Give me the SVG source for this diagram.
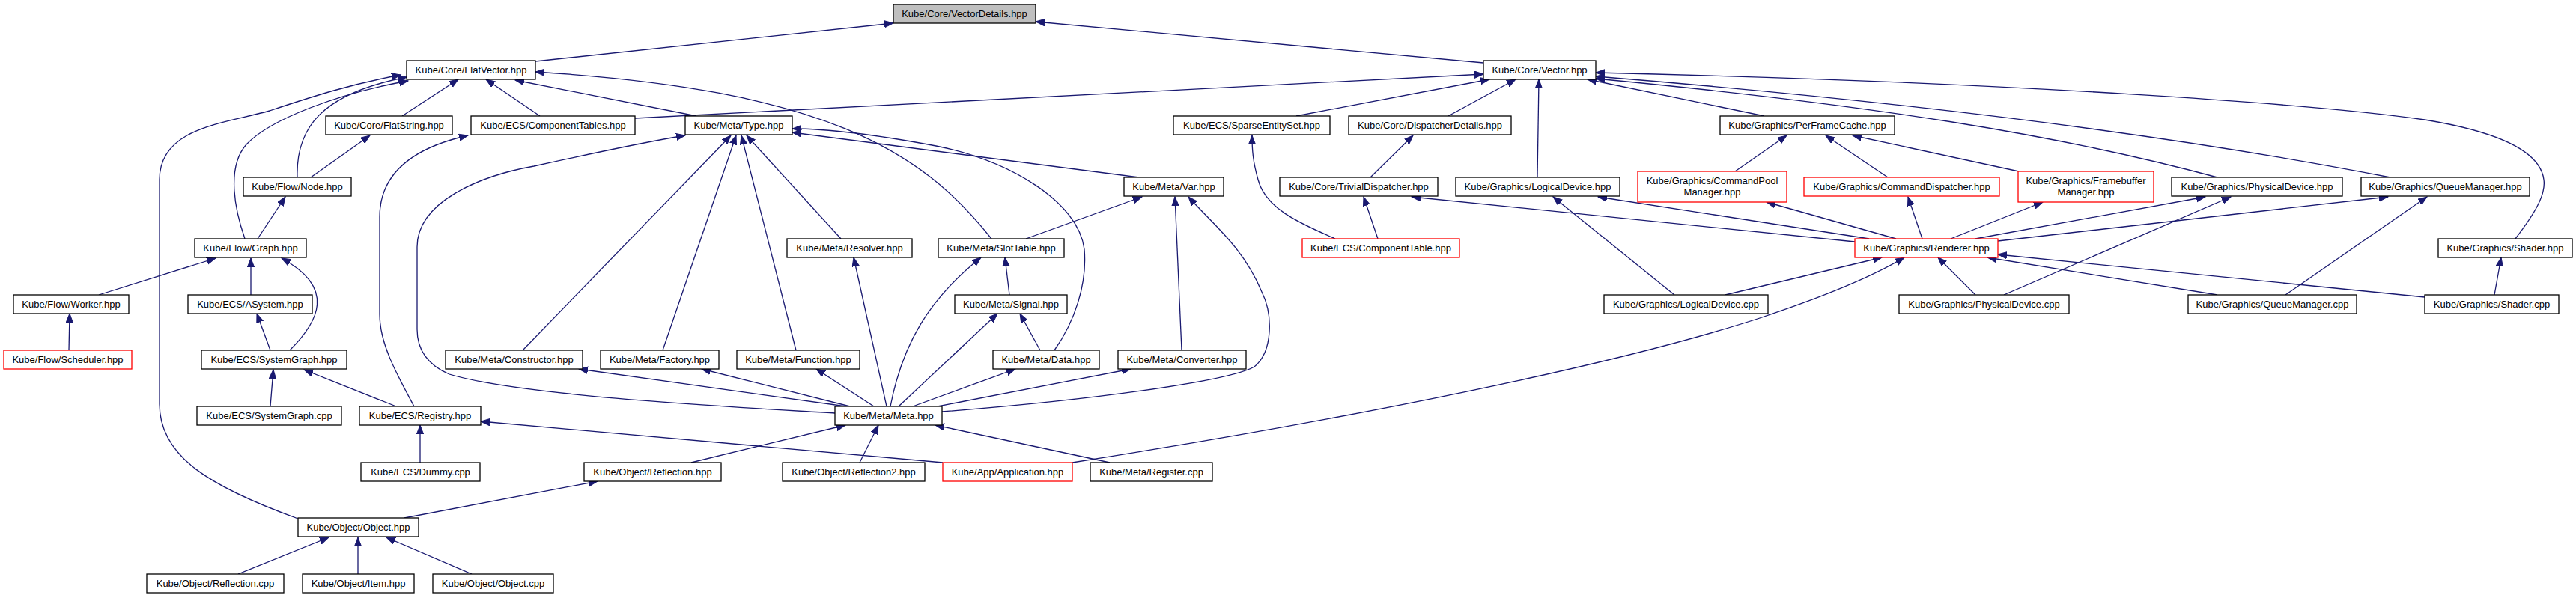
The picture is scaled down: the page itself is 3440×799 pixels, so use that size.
<svg xmlns="http://www.w3.org/2000/svg" width="3440" height="799" viewBox="0 0 3440 799">
<style>
rect{fill:#fff;stroke:#000;stroke-width:1.3}
rect.r{stroke:#f00}
rect.g{fill:#bfbfbf}
text{font-family:"Liberation Sans",Arial,sans-serif;font-size:13px;fill:#000;text-anchor:middle}
#edges path{fill:none;stroke:#191970;stroke-width:1.3;marker-end:url(#ah)}
</style>
<defs>
<marker id="ah" markerUnits="userSpaceOnUse" markerWidth="14" markerHeight="12" refX="12" refY="5" orient="auto">
<path d="M0,0.4 L12,5 L0,9.6 z" fill="#191970" stroke="#191970" stroke-width="1"/>
</marker>
</defs>
<rect x="0" y="0" width="3440" height="799" style="fill:#fff;stroke:none"/>
<g id="edges">
<path d="M715,82 L1193,31"/>
<path d="M1981,84 L1383,29"/>
<path d="M537,155 L612,106"/>
<path d="M721,155 L649,106"/>
<path d="M930,155 L688,107"/>
<path d="M1324,319 C1230,200 1100,120 715,96"/>
<path d="M397,237 C395,170 430,125 543,103"/>
<path d="M327,319 C310,270 305,220 329,193 C360,160 450,125 545,108"/>
<path d="M398,693 C280,650 213,610 213,540 L213,240 C213,170 300,165 360,148 C420,128 470,112 535,100"/>
<path d="M344,319 L381,263"/>
<path d="M415,237 L494,181"/>
<path d="M132,394 L288,345"/>
<path d="M335,394 L335,345"/>
<path d="M387,468 C425,430 450,385 376,345"/>
<path d="M92,468 L93,419"/>
<path d="M361,468 L343,419"/>
<path d="M361,543 L365,494"/>
<path d="M529,543 L406,494"/>
<path d="M561,618 L561,568"/>
<path d="M553,543 C530,500 507,460 507,420 L507,290 C507,240 540,200 625,181"/>
<path d="M698,468 L976,181"/>
<path d="M885,468 L983,181"/>
<path d="M1063,468 L990,181"/>
<path d="M1123,319 L997,181"/>
<path d="M1115,552 C1000,545 700,530 600,500 C565,485 557,460 557,440 L557,330 C557,270 640,235 713,222 C790,205 860,190 915,181"/>
<path d="M1184,543 L1140,344"/>
<path d="M1408,468 C1435,430 1452,380 1448,333 C1440,270 1350,215 1250,195 C1170,180 1100,172 1058,172"/>
<path d="M1521,237 L1058,177"/>
<path d="M1370,319 L1525,263"/>
<path d="M1578,468 L1569,263"/>
<path d="M1258,550 C1450,535 1640,510 1675,490 C1700,470 1700,420 1685,390 C1660,330 1620,300 1587,263"/>
<path d="M1189,543 C1205,460 1240,400 1310,344"/>
<path d="M1348,394 L1342,344"/>
<path d="M1200,543 L1332,419"/>
<path d="M1389,468 L1362,419"/>
<path d="M1135,543 L937,493"/>
<path d="M1167,543 L1090,493"/>
<path d="M1219,543 L1356,493"/>
<path d="M1252,543 L1510,493"/>
<path d="M1130,543 L773,493"/>
<path d="M923,618 L1129,568"/>
<path d="M1148,618 L1173,568"/>
<path d="M1482,618 L1249,568"/>
<path d="M1259,618 L642,563"/>
<path d="M1432,618 C1800,560 2150,490 2350,425 C2440,395 2500,370 2543,344"/>
<path d="M848,158 L1981,99"/>
<path d="M1731,155 L1989,106"/>
<path d="M1934,155 L2024,106"/>
<path d="M2053,237 L2055,106"/>
<path d="M2356,155 L2120,106"/>
<path d="M3359,319 C3385,285 3400,260 3397,240 C3392,200 3330,175 3238,160 C3100,140 2700,110 2131,97"/>
<path d="M3192,237 C2950,190 2600,140 2131,102"/>
<path d="M2961,237 C2750,180 2500,140 2131,105"/>
<path d="M1830,237 L1887,181"/>
<path d="M1840,319 L1821,263"/>
<path d="M2477,323 L1885,263"/>
<path d="M1783,319 C1740,300 1690,280 1680,240 C1673,215 1672,200 1672,181"/>
<path d="M2236,394 L2074,263"/>
<path d="M2496,319 L2134,263"/>
<path d="M2532,319 L2359,270"/>
<path d="M2317,229 L2386,181"/>
<path d="M2521,237 L2438,181"/>
<path d="M2696,229 L2474,181"/>
<path d="M2567,319 L2548,263"/>
<path d="M2605,319 L2728,270"/>
<path d="M2638,319 L2945,263"/>
<path d="M2668,322 L3189,263"/>
<path d="M2676,394 L2979,263"/>
<path d="M3052,394 L3241,263"/>
<path d="M3331,394 L3340,344"/>
<path d="M2304,394 L2513,344"/>
<path d="M2638,394 L2588,344"/>
<path d="M2961,394 L2654,344"/>
<path d="M3238,397 L2668,340"/>
<path d="M540,692 L798,643"/>
<path d="M318,767 L439,718"/>
<path d="M478,767 L478,718"/>
<path d="M630,767 L516,718"/>
</g>
<g id="n_vd"><rect class="g" x="1193" y="6" width="190" height="25"/><text x="1288" y="23">Kube/Core/VectorDetails.hpp</text></g>
<g id="n_fv"><rect x="543" y="81" width="172" height="25"/><text x="629" y="98">Kube/Core/FlatVector.hpp</text></g>
<g id="n_vec"><rect x="1981" y="81" width="150" height="25"/><text x="2056" y="98">Kube/Core/Vector.hpp</text></g>
<g id="n_fs"><rect x="435" y="155" width="169" height="25"/><text x="519.5" y="172">Kube/Core/FlatString.hpp</text></g>
<g id="n_cts"><rect x="629" y="155" width="219" height="25"/><text x="738.5" y="172">Kube/ECS/ComponentTables.hpp</text></g>
<g id="n_type"><rect x="915" y="155" width="143" height="25"/><text x="986.5" y="172">Kube/Meta/Type.hpp</text></g>
<g id="n_ses"><rect x="1567" y="155" width="209" height="25"/><text x="1671.5" y="172">Kube/ECS/SparseEntitySet.hpp</text></g>
<g id="n_dd"><rect x="1801" y="155" width="217" height="25"/><text x="1909.5" y="172">Kube/Core/DispatcherDetails.hpp</text></g>
<g id="n_pfc"><rect x="2297" y="155" width="233" height="25"/><text x="2413.5" y="172">Kube/Graphics/PerFrameCache.hpp</text></g>
<g id="n_node"><rect x="325" y="237" width="144" height="25"/><text x="397" y="254">Kube/Flow/Node.hpp</text></g>
<g id="n_var"><rect x="1501" y="237" width="133" height="25"/><text x="1567.5" y="254">Kube/Meta/Var.hpp</text></g>
<g id="n_td"><rect x="1709" y="237" width="211" height="25"/><text x="1814.5" y="254">Kube/Core/TrivialDispatcher.hpp</text></g>
<g id="n_ldh"><rect x="1944" y="237" width="219" height="25"/><text x="2053.5" y="254">Kube/Graphics/LogicalDevice.hpp</text></g>
<g id="n_cpm"><rect class="r" x="2187" y="229" width="199" height="41"/><text x="2286.5" y="246">Kube/Graphics/CommandPool</text><text x="2286.5" y="261">Manager.hpp</text></g>
<g id="n_cd"><rect class="r" x="2409" y="237" width="261" height="25"/><text x="2539.5" y="254">Kube/Graphics/CommandDispatcher.hpp</text></g>
<g id="n_fbm"><rect class="r" x="2695" y="229" width="181" height="41"/><text x="2785.5" y="246">Kube/Graphics/Framebuffer</text><text x="2785.5" y="261">Manager.hpp</text></g>
<g id="n_pdh"><rect x="2900" y="237" width="228" height="25"/><text x="3014" y="254">Kube/Graphics/PhysicalDevice.hpp</text></g>
<g id="n_qmh"><rect x="3153" y="237" width="225" height="25"/><text x="3265.5" y="254">Kube/Graphics/QueueManager.hpp</text></g>
<g id="n_graph"><rect x="260" y="319" width="149" height="25"/><text x="334.5" y="336">Kube/Flow/Graph.hpp</text></g>
<g id="n_res"><rect x="1051" y="319" width="167" height="25"/><text x="1134.5" y="336">Kube/Meta/Resolver.hpp</text></g>
<g id="n_slot"><rect x="1253" y="319" width="168" height="25"/><text x="1337" y="336">Kube/Meta/SlotTable.hpp</text></g>
<g id="n_ctab"><rect class="r" x="1739" y="319" width="210" height="25"/><text x="1844" y="336">Kube/ECS/ComponentTable.hpp</text></g>
<g id="n_rend"><rect class="r" x="2477" y="319" width="191" height="25"/><text x="2572.5" y="336">Kube/Graphics/Renderer.hpp</text></g>
<g id="n_shh"><rect x="3256" y="319" width="179" height="25"/><text x="3345.5" y="336">Kube/Graphics/Shader.hpp</text></g>
<g id="n_worker"><rect x="18" y="394" width="154" height="25"/><text x="95" y="411">Kube/Flow/Worker.hpp</text></g>
<g id="n_asys"><rect x="251" y="394" width="166" height="25"/><text x="334" y="411">Kube/ECS/ASystem.hpp</text></g>
<g id="n_sig"><rect x="1275" y="394" width="150" height="25"/><text x="1350" y="411">Kube/Meta/Signal.hpp</text></g>
<g id="n_ldc"><rect x="2142" y="394" width="219" height="25"/><text x="2251.5" y="411">Kube/Graphics/LogicalDevice.cpp</text></g>
<g id="n_pdc"><rect x="2536" y="394" width="227" height="25"/><text x="2649.5" y="411">Kube/Graphics/PhysicalDevice.cpp</text></g>
<g id="n_qmc"><rect x="2922" y="394" width="225" height="25"/><text x="3034.5" y="411">Kube/Graphics/QueueManager.cpp</text></g>
<g id="n_shc"><rect x="3238" y="394" width="179" height="25"/><text x="3327.5" y="411">Kube/Graphics/Shader.cpp</text></g>
<g id="n_sched"><rect class="r" x="5" y="468" width="171" height="25"/><text x="90.5" y="485">Kube/Flow/Scheduler.hpp</text></g>
<g id="n_sgh"><rect x="269" y="468" width="194" height="25"/><text x="366" y="485">Kube/ECS/SystemGraph.hpp</text></g>
<g id="n_ctor"><rect x="595" y="468" width="183" height="25"/><text x="686.5" y="485">Kube/Meta/Constructor.hpp</text></g>
<g id="n_fac"><rect x="802" y="468" width="158" height="25"/><text x="881" y="485">Kube/Meta/Factory.hpp</text></g>
<g id="n_fun"><rect x="984" y="468" width="164" height="25"/><text x="1066" y="485">Kube/Meta/Function.hpp</text></g>
<g id="n_data"><rect x="1326" y="468" width="142" height="25"/><text x="1397" y="485">Kube/Meta/Data.hpp</text></g>
<g id="n_conv"><rect x="1493" y="468" width="171" height="25"/><text x="1578.5" y="485">Kube/Meta/Converter.hpp</text></g>
<g id="n_sgc"><rect x="263" y="543" width="193" height="25"/><text x="359.5" y="560">Kube/ECS/SystemGraph.cpp</text></g>
<g id="n_reg"><rect x="480" y="543" width="162" height="25"/><text x="561" y="560">Kube/ECS/Registry.hpp</text></g>
<g id="n_meta"><rect x="1115" y="543" width="143" height="25"/><text x="1186.5" y="560">Kube/Meta/Meta.hpp</text></g>
<g id="n_dummy"><rect x="482" y="618" width="159" height="25"/><text x="561.5" y="635">Kube/ECS/Dummy.cpp</text></g>
<g id="n_refh"><rect x="780" y="618" width="183" height="25"/><text x="871.5" y="635">Kube/Object/Reflection.hpp</text></g>
<g id="n_ref2"><rect x="1045" y="618" width="190" height="25"/><text x="1140" y="635">Kube/Object/Reflection2.hpp</text></g>
<g id="n_app"><rect class="r" x="1259" y="618" width="173" height="25"/><text x="1345.5" y="635">Kube/App/Application.hpp</text></g>
<g id="n_regc"><rect x="1456" y="618" width="163" height="25"/><text x="1537.5" y="635">Kube/Meta/Register.cpp</text></g>
<g id="n_obj"><rect x="398" y="692" width="161" height="25"/><text x="478.5" y="709">Kube/Object/Object.hpp</text></g>
<g id="n_refc"><rect x="196" y="767" width="183" height="25"/><text x="287.5" y="784">Kube/Object/Reflection.cpp</text></g>
<g id="n_item"><rect x="404" y="767" width="149" height="25"/><text x="478.5" y="784">Kube/Object/Item.hpp</text></g>
<g id="n_objc"><rect x="578" y="767" width="161" height="25"/><text x="658.5" y="784">Kube/Object/Object.cpp</text></g>
</svg>
